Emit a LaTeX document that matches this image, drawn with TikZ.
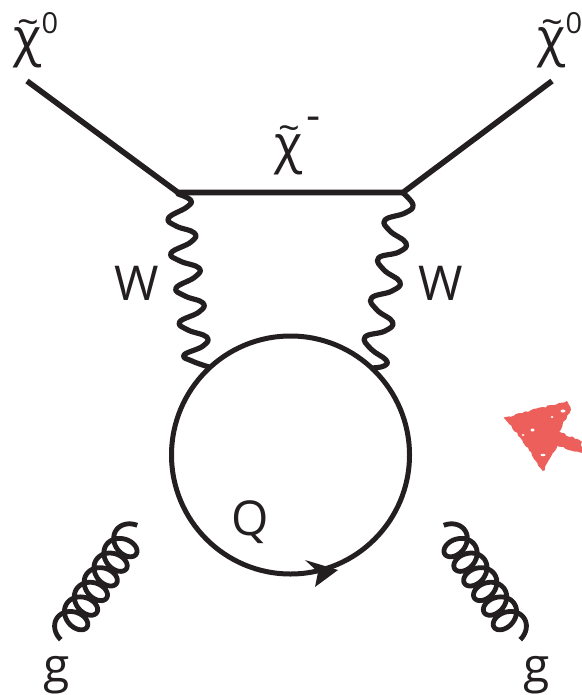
\documentclass[tikz,border=0pt]{standalone}
\usepackage{fontspec}
\setmainfont{Open Sans}[Script=Greek]
\definecolor{ink}{HTML}{231F20}
\definecolor{marker}{HTML}{EC5F5B}
\usetikzlibrary{decorations.pathmorphing}
\tikzset{
  line/.style={draw=ink,line width=5.6pt},
  wig/.style={draw=ink,line width=5.2pt,line cap=round,line join=round},
  coilline/.style={draw=ink,line width=4.8pt,line cap=butt},
  lab/.style={text=ink,inner sep=0pt,font=\fontsize{48}{48}\selectfont},
  chilab/.style={text=ink,inner sep=0pt,anchor=base,font=\fontsize{52}{52}\selectfont},
  suplab/.style={text=ink,inner sep=0pt,font=\fontsize{29}{29}\selectfont},
  minuslab/.style={text=ink,inner sep=0pt,font=\fontsize{44}{44}\selectfont},
}
\newcommand{\chit}{\ooalign{χ\cr\hidewidth\raisebox{20.5pt}{\fontsize{38}{38}\selectfont\char"007E}\hidewidth\cr}}
% #1,#2 start centre; #3 end centre x; #4 = +1 left coil, -1 right coil
\newcommand{\coil}[4]{%
  \draw[coilline] plot[smooth,samples=340,domain=-90:2250,variable=\t]
   ({#1+(#3-#1)*((\t+90)/2340) + #4*(-0.84*15*cos(\t) + 0.54*11.5*sin(\t))},
    {#2-95*((\t+90)/2340) + (-0.54*15*cos(\t) - 0.84*11.5*sin(\t))});
}
\begin{document}
\begin{tikzpicture}[x=1pt,y=-1pt]
\useasboundingbox (0,0) rectangle (581,695);
\coordinate (ol) at (27,81);
\coordinate (or) at (552,81);
\coordinate (vl) at (178,192.5);
\coordinate (vr) at (403,192.5);
\coordinate (c) at (290.5,455);

\draw[line,line join=miter] (ol) -- (vl) -- (vr) -- (or);

\draw[wig] plot[smooth,tension=0.75] coordinates {(178,194) (190.5,200) (187,207) (168.5,218) (176,226) (194.4,233) (191,242) (171,253) (180,261) (199,268) (195,277) (176,288) (185,296) (203,303) (199,312) (179.6,322) (188,330) (206.7,337) (203,346) (184,355) (192,361) (209,367)};
\draw[wig] plot[smooth,tension=0.75] coordinates {(403,193) (413,205) (405,213) (385,220) (390,231) (406,243) (399,252) (378.5,258) (384,270) (400,282) (392,291) (371.5,298) (377,310) (392.6,322) (385,331) (365,337) (371,349) (386,360) (384,366) (372,368)};

\draw[line,line width=5pt] (c) circle (119);
\fill[ink] (338,570) -- (305,560) -- (318,572) -- (315,587) -- cycle;

\coil{67}{630}{131}{1}
\coil{514}{630}{450}{-1}

\fill[marker,draw=marker,line width=1.5pt,decorate,decoration={random steps,segment length=3pt,amplitude=1pt}]
 (505,418) -- (566.7,402) -- (570,410) -- (558,432) -- (581,442) -- (581,452) -- (556.7,445) -- (543,470) -- (523,440) -- cycle;
\fill[white] (563,411) ellipse (2.5 and 1.5) (532.5,430) ellipse (2 and 1.5) (543,455) ellipse (2.5 and 1.2) (523,435) ellipse (1.5 and 1) (552,417) ellipse (1.5 and 1);

\node[chilab] (x1) at (28,56) {\chit};
\node[suplab] (s1) at (50,23) {0};
\node[chilab] (x2) at (552,56) {\chit};
\node[suplab] (s2) at (574,23) {0};
\node[chilab] (x3) at (289,162) {\chit};
\node[minuslab] (s3) at (314,124) {-};
\node[lab] (w1) at (137,283) {W};
\node[lab] (w2) at (441,283) {W};
\node[lab] (q) at (250,522) {Q};
\node[lab] (g1) at (57,675) {g};
\node[lab] (g2) at (537,675) {g};
\end{tikzpicture}
\end{document}
